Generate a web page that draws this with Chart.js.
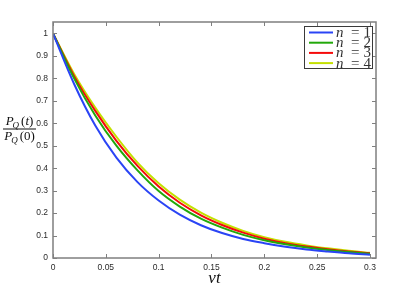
<!DOCTYPE html>
<html lang="en">
<head>
<meta charset="UTF-8">
<title>P_Q(t)/P_Q(0) vs nu t</title>
<script src="https://cdn.jsdelivr.net/npm/chart.js"></script>
<style>
    html, body { margin: 0; padding: 0; background: #fff; }
    #wrap { width: 415px; height: 291px; }
</style>
</head>
<body>
<div id="wrap"><canvas id="decayChart" width="415" height="291"></canvas></div>

<script>
// values
const nuT = [0, 0.02, 0.04, 0.06, 0.08, 0.10, 0.12, 0.14, 0.16, 0.18, 0.20, 0.22, 0.24, 0.26, 0.28, 0.30];
const n1 = [1, 0.775, 0.590, 0.447, 0.338, 0.256, 0.193, 0.146, 0.111, 0.085, 0.066, 0.050, 0.038, 0.029, 0.021, 0.015];
const n2 = [1, 0.800, 0.635, 0.500, 0.390, 0.298, 0.229, 0.175, 0.135, 0.103, 0.079, 0.061, 0.047, 0.036, 0.027, 0.019];
const n3 = [1, 0.810, 0.655, 0.522, 0.410, 0.318, 0.246, 0.190, 0.147, 0.113, 0.086, 0.066, 0.051, 0.039, 0.029, 0.021];
const n4 = [1, 0.820, 0.670, 0.540, 0.425, 0.333, 0.260, 0.202, 0.157, 0.121, 0.093, 0.072, 0.056, 0.043, 0.032, 0.023];

const seriesNames = ['1', '2', '3', '4'];
const seriesColors = ['#2a44f5', '#22a80a', '#f50a0a', '#c4e000'];

const xTickValues = [0, 0.05, 0.1, 0.15, 0.2, 0.25, 0.3];
const xTickLabels = ['0', '0.05', '0.1', '0.15', '0.2', '0.25', '0.3'];
const yTickValues = [0, 0.1, 0.2, 0.3, 0.4, 0.5, 0.6, 0.7, 0.8, 0.9, 1];
const yTickLabels = ['0', '0.1', '0.2', '0.3', '0.4', '0.5', '0.6', '0.7', '0.8', '0.9', '1'];

const allSeries = [n1, n2, n3, n4];

const datasets = allSeries.map((vals, i) => ({
    label: 'n = ' + seriesNames[i],
    data: vals.map((v, j) => ({ x: nuT[j], y: v })),
    borderColor: seriesColors[i],
    backgroundColor: seriesColors[i],
    borderWidth: 2,
    pointRadius: 0,
    cubicInterpolationMode: 'monotone',
    fill: false
}));

const axisGray = '#7f7f7f';
const labelColor = '#2b2b2b';

// box, inward ticks on all four sides, axis titles and legend (matlab look)
const decorPlugin = {
    id: 'decor',
    afterDraw(chart) {
        const ctx = chart.ctx;
        const a = chart.chartArea;
        const xs = chart.scales.x;
        const ys = chart.scales.y;
        ctx.save();

        // box
        ctx.strokeStyle = axisGray;
        ctx.lineWidth = 1.5;
        ctx.strokeRect(a.left, a.top, a.right - a.left, a.bottom - a.top);

        // tick marks
        ctx.lineWidth = 1;
        const tl = 4;
        xTickValues.forEach(v => {
            const px = Math.round(xs.getPixelForValue(v)) + 0.5;
            ctx.beginPath();
            ctx.moveTo(px, a.bottom); ctx.lineTo(px, a.bottom - tl);
            ctx.moveTo(px, a.top); ctx.lineTo(px, a.top + tl);
            ctx.stroke();
        });
        yTickValues.forEach(v => {
            const py = Math.round(ys.getPixelForValue(v)) + 0.5;
            ctx.beginPath();
            ctx.moveTo(a.left, py); ctx.lineTo(a.left + tl, py);
            ctx.moveTo(a.right, py); ctx.lineTo(a.right - tl, py);
            ctx.stroke();
        });

        // x axis title: nu t
        ctx.fillStyle = '#111';
        ctx.font = 'italic 17px "Liberation Serif"';
        ctx.textAlign = 'center';
        ctx.textBaseline = 'alphabetic';
        ctx.fillText('\u03BDt', (a.left + a.right) / 2, 283);

        // y axis title: P_Q(t) / P_Q(0)
        function drawPQ(arg, cx, baseline) {
            const big = 'italic 13px "Liberation Serif"';
            const sub = 'italic 9px "Liberation Serif"';
            const rest = '13px "Liberation Serif"';
            const argIt = arg === 't';
            ctx.font = big; const wP = ctx.measureText('P').width;
            ctx.font = sub; const wQ = ctx.measureText('Q').width;
            ctx.font = rest; const wL = ctx.measureText('(').width;
            ctx.font = argIt ? big : rest; const wA = ctx.measureText(arg).width;
            ctx.font = rest; const wR = ctx.measureText(')').width;
            const total = wP + wQ + 1 + wL + wA + wR;
            let x = cx - total / 2;
            ctx.textAlign = 'left';
            ctx.font = big; ctx.fillText('P', x, baseline); x += wP - 1;
            ctx.font = sub; ctx.fillText('Q', x, baseline + 3); x += wQ + 2;
            ctx.font = rest; ctx.fillText('(', x, baseline); x += wL;
            ctx.font = argIt ? big : rest; ctx.fillText(arg, x, baseline); x += wA;
            ctx.font = rest; ctx.fillText(')', x, baseline);
        }
        const fracCx = 19.5;
        drawPQ('t', fracCx, 125);
        ctx.fillRect(3, 128.5, 33, 1);
        drawPQ('0', fracCx, 140);

        // legend
        const lg = { left: 304, top: 26, right: 372, bottom: 68 };
        ctx.fillStyle = '#fff';
        ctx.fillRect(lg.left, lg.top, lg.right - lg.left, lg.bottom - lg.top);
        ctx.strokeStyle = '#3a3a3a';
        ctx.lineWidth = 1;
        ctx.strokeRect(lg.left + 0.5, lg.top + 0.5, lg.right - lg.left, lg.bottom - lg.top);
        chart.data.datasets.forEach((ds, i) => {
            const yy = 32.5 + i * 10.2;
            ctx.strokeStyle = ds.borderColor;
            ctx.lineWidth = 2;
            ctx.beginPath();
            ctx.moveTo(309, yy); ctx.lineTo(333, yy);
            ctx.stroke();
            ctx.fillStyle = '#333';
            ctx.textAlign = 'left';
            ctx.textBaseline = 'middle';
            ctx.font = 'italic 15px "Liberation Serif"';
            ctx.fillText('n', 336, yy + 0.5);
            ctx.font = '15px "Liberation Serif"';
            ctx.fillText('=', 351, yy + 0.5);
            ctx.fillText(seriesNames[i], 363.5, yy + 0.5);
        });

        ctx.restore();
    }
};

new Chart(document.getElementById('decayChart'), {
    type: 'line',
    data: { datasets: datasets },
    options: {
        responsive: false,
        animation: false,
        events: [],
        layout: { padding: { top: 22, right: 39, left: 0, bottom: 0 } },
        plugins: {
            legend: { display: false },
            tooltip: { enabled: false }
        },
        scales: {
            x: {
                type: 'linear',
                min: 0,
                max: 0.3057,
                border: { display: false },
                grid: { display: false, drawTicks: false },
                afterBuildTicks: s => { s.ticks = xTickValues.map(v => ({ value: v })); },
                afterFit: s => { s.height = 33; },
                ticks: {
                    padding: 5,
                    color: labelColor,
                    font: { family: 'Liberation Sans', size: 8.5 },
                    maxRotation: 0,
                    callback: (v) => xTickLabels[xTickValues.indexOf(v)]
                }
            },
            y: {
                type: 'linear',
                min: 0,
                max: 1.051,
                border: { display: false },
                grid: { display: false, drawTicks: false },
                afterBuildTicks: s => { s.ticks = yTickValues.map(v => ({ value: v })); },
                afterFit: s => { s.width = 53; },
                ticks: {
                    padding: 5,
                    color: labelColor,
                    font: { family: 'Liberation Sans', size: 8.5 },
                    callback: (v) => yTickLabels[yTickValues.indexOf(v)]
                }
            }
        }
    },
    plugins: [decorPlugin]
});
</script>
</body>
</html>
